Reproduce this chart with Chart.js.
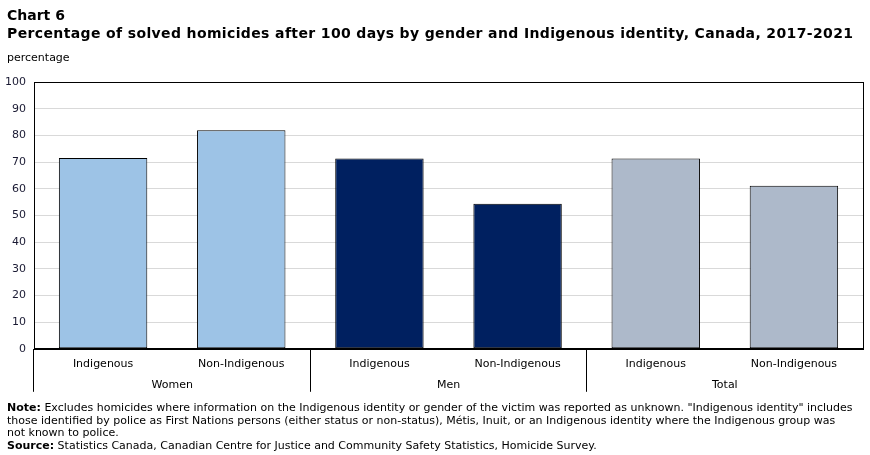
<!DOCTYPE html>
<html>
<head>
<meta charset="utf-8">
<script src="https://cdn.jsdelivr.net/npm/chart.js@4"></script>
<style>
  body { margin: 0; background: #fff; font-family: "DejaVu Sans", Verdana, sans-serif; color: #000; }
  #wrap { position: relative; width: 870px; height: 455px; }
  #chart { position: absolute; left: 0; top: 0; }
  .t { position: absolute; left: 7px; white-space: nowrap; }
  #h1 { top: 7px; font-size: 14px; font-weight: bold; }
  #h2 { top: 25px; font-size: 14px; font-weight: bold; letter-spacing: 0.37px; }
  #unit { top: 51px; font-size: 11px; }
  #note { top: 402px; font-size: 11px; line-height: 12.5px; }
</style>
</head>
<body>
<div id="wrap">
  <canvas id="chart" width="870" height="455"></canvas>
  <div class="t" id="h1">Chart 6</div>
  <div class="t" id="h2">Percentage of solved homicides after 100 days by gender and Indigenous identity, Canada, 2017-2021</div>
  <div class="t" id="unit">percentage</div>
  <div class="t" id="note"><b>Note:</b> Excludes homicides where information on the Indigenous identity or gender of the victim was reported as unknown. "Indigenous identity" includes<br>those identified by police as First Nations persons (either status or non-status), Métis, Inuit, or an Indigenous identity where the Indigenous group was<br>not known to police.<br><b>Source:</b> Statistics Canada, Canadian Centre for Justice and Community Safety Statistics, Homicide Survey.</div>
</div>
<script>
const categories = ['Indigenous', 'Non-Indigenous', 'Indigenous', 'Non-Indigenous', 'Indigenous', 'Non-Indigenous'];
const groups = ['Women', 'Men', 'Total'];
const values = [71.5, 81.9, 71.3, 54.4, 71.3, 61.1];
const yTicks = [0, 10, 20, 30, 40, 50, 60, 70, 80, 90, 100];

const groupColors = ['#9dc3e6', '#002060', '#adb9ca'];
const barColors = categories.map((c, i) => groupColors[Math.floor(i / 2)]);

// black frame round the plot area
const frame = {
    id: 'frame',
    afterDraw(chart) {
        const a = chart.chartArea;
        const ctx = chart.ctx;
        ctx.save();
        ctx.strokeStyle = '#000';
        ctx.lineWidth = 1;
        ctx.strokeRect(Math.round(a.left) + 0.5, Math.round(a.top) + 0.5, Math.round(a.right - a.left), Math.round(a.bottom - a.top));
        ctx.restore();
    }
};

Chart.defaults.font.family = '"DejaVu Sans", Verdana, sans-serif';
Chart.defaults.font.size = 11;
Chart.defaults.color = '#000';

new Chart(document.getElementById('chart'), {
    type: 'bar',
    data: {
        labels: categories,
        datasets: [{
            data: values,
            backgroundColor: barColors,
            borderColor: '#000',
            borderWidth: 1,
            borderSkipped: false,
            inflateAmount: 0,
            categoryPercentage: 0.64,
            barPercentage: 1
        }]
    },
    options: {
        responsive: false,
        animation: false,
        layout: { padding: { top: 82, left: 0, right: 7, bottom: 61 } },
        plugins: { legend: { display: false }, tooltip: { enabled: false } },
        scales: {
            y: {
                min: 0,
                max: 100,
                afterBuildTicks: s => { s.ticks = yTicks.map(v => ({ value: v })); },
                afterFit: s => { s.width = 34; },
                ticks: { padding: 8, color: '#1a1a33' },
                grid: { color: '#d9d9d9', drawTicks: false },
                border: { color: '#000' }
            },
            x: {
                afterFit: s => { s.height = 28; },
                grid: {
                    offset: true,
                    drawOnChartArea: false,
                    tickLength: 43,
                    color: c => (c.index % 2 === 0 ? '#000' : 'rgba(0,0,0,0)')
                },
                ticks: { padding: -34, autoSkip: false, maxRotation: 0 },
                border: { color: '#000' }
            },
            groups: {
                type: 'category',
                position: 'bottom',
                labels: groups,
                offset: true,
                grid: { display: false, drawTicks: false },
                border: { display: false },
                ticks: { padding: 2 }
            }
        }
    },
    plugins: [frame]
});
</script>
</body>
</html>
